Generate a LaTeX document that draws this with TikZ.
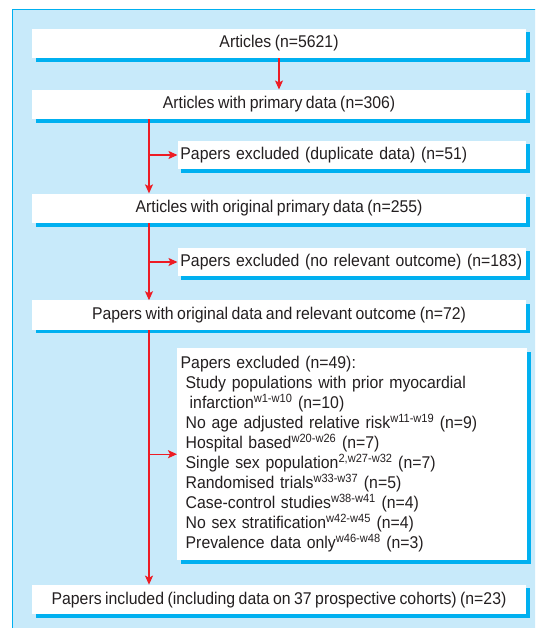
\documentclass[tikz,border=0pt]{standalone}
\usepackage{fontspec}
\setmainfont[FakeStretch=0.93, WordSpace=0.8]{Liberation Sans}
\usetikzlibrary{positioning,arrows.meta,shadows}
\definecolor{panelblue}{RGB}{200,234,250}
\definecolor{shadecyan}{RGB}{0,176,240}
\definecolor{flowred}{RGB}{237,28,36}
\definecolor{inkgrey}{RGB}{35,31,32}

\begin{document}
\begin{tikzpicture} [
                x=1pt, y=1pt,
                font=\fontsize{17}{20}\selectfont,
                stagebox/.style={
                    rectangle,
                    fill=white,
                    text=inkgrey,
                    minimum width=494pt,
                    minimum height=29.5pt,
                    inner sep=0pt,
                    drop shadow={shadow xshift=3.5pt, shadow yshift=-3.5pt, fill=shadecyan, opacity=1}
                },
                dropbox/.style={
                    stagebox,
                    minimum width=348.5pt,
                    minimum height=28.5pt,
                    text width=343pt,
                    align=left
                },
                flow/.style={
                    draw=flowred,
                    line width=1.2pt,
                    -{Stealth[length=9pt, width=8pt, inset=2pt]}
                }
            ]
                \useasboundingbox (0,0) rectangle (535,-628);
                \clip (0,0) rectangle (535,-628);
                \fill[panelblue] (12.5,-9.5) rectangle (545,-640);
                \draw[shadecyan, line width=1.5pt] (12.5,-640) |- (545,-9.5);

                \node[stagebox] (articles) at (279,-43.5)              {Articles (n=5621)};
                \node[stagebox] (primary)  [below=31pt of articles]    {Articles with primary data (n=306)};
                \node[stagebox] (original) [below=74pt of primary]     {Articles with original primary data (n=255)};
                \node[stagebox] (relevant) [below=77pt of original]    {Papers with original data and relevant outcome (n=72)};
                \node[stagebox] (included) [below=254.5pt of relevant] {Papers included (including data on 37 prospective cohorts) (n=23)};

                \node[dropbox, anchor=west] (duplicate) at (177.5,-155) {Papers excluded (duplicate data) (n=51)};
                \node[dropbox, anchor=west] (nooutcome) at (177.5,-262) {Papers excluded (no relevant outcome) (n=183)};
                \node[dropbox, anchor=north west, minimum width=350pt, minimum height=212pt] (excluded) at (177,-348) {%
                    Papers excluded (n=49):\\
                    \hspace*{5pt}Study populations with prior myocardial\\
                    \hspace*{9pt}infarction\textsuperscript{w1-w10} (n=10)\\
                    \hspace*{5pt}No age adjusted relative risk\textsuperscript{w11-w19} (n=9)\\
                    \hspace*{5pt}Hospital based\textsuperscript{w20-w26} (n=7)\\
                    \hspace*{5pt}Single sex population\textsuperscript{2,w27-w32} (n=7)\\
                    \hspace*{5pt}Randomised trials\textsuperscript{w33-w37} (n=5)\\
                    \hspace*{5pt}Case-control studies\textsuperscript{w38-w41} (n=4)\\
                    \hspace*{5pt}No sex stratification\textsuperscript{w42-w45} (n=4)\\
                    \hspace*{5pt}Prevalence data only\textsuperscript{w46-w48} (n=3)};

                \coordinate (spine) at (149,0);
                \draw[flow] (articles) -- (primary);
                \draw[flow] (primary.south -| spine)  -- (original.north -| spine);
                \draw[flow] (duplicate.west -| spine) -- (duplicate.west);
                \draw[flow] (original.south -| spine) -- (relevant.north -| spine);
                \draw[flow] (nooutcome.west -| spine) -- (nooutcome.west);
                \draw[flow] (relevant.south -| spine) -- (included.north -| spine);
                \draw[flow] (excluded.west -| spine)  -- (excluded.west);
            \end{tikzpicture}
\end{document}
